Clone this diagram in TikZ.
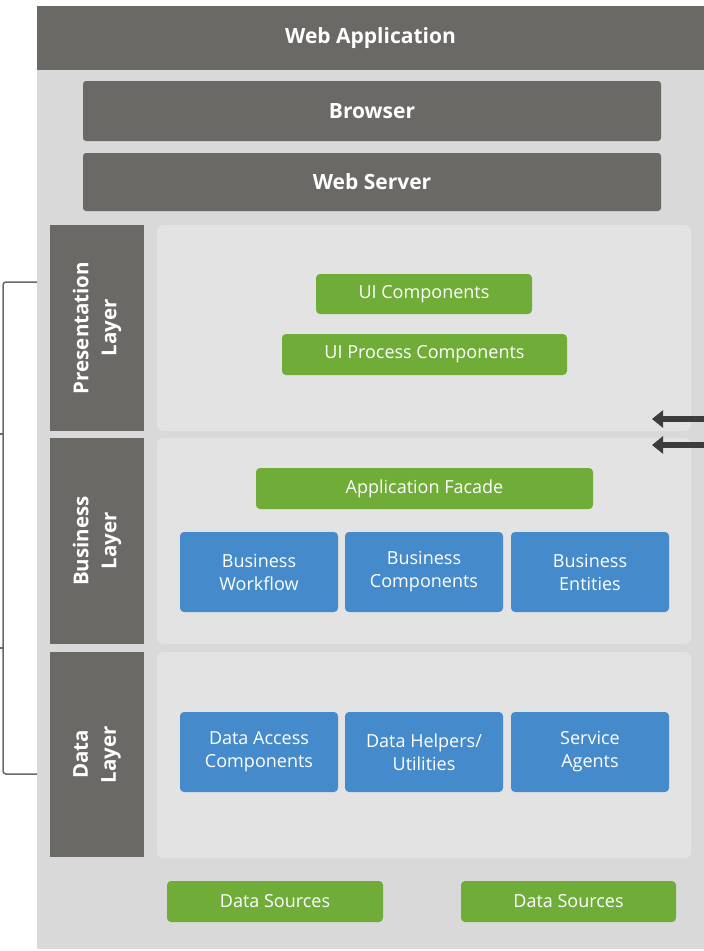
\documentclass[tikz,border=0pt]{standalone}
\usepackage{fontspec}
\setmainfont{Open Sans}
\usetikzlibrary{arrows.meta}
\definecolor{dgray}{HTML}{6B6966}
\definecolor{outer}{HTML}{D9D9D9}
\definecolor{panel}{HTML}{E3E3E3}
\definecolor{cgreen}{HTML}{70AD38}
\definecolor{cblue}{HTML}{458BCC}
\definecolor{arr}{HTML}{3C3C3C}
\begin{document}
\begin{tikzpicture}[x=1pt,y=-1pt,
  box/.style={inner sep=0pt, text=white, align=center},
  headbox/.style={box, fill=dgray, font=\bfseries\fontsize{21}{24}\selectfont},
  darkbox/.style={headbox, rounded corners=3pt},
  layerbox/.style={box, fill=dgray, font=\bfseries\fontsize{20.5}{28}\selectfont},
  panelbox/.style={inner sep=0pt, fill=panel, rounded corners=6pt},
  greenbox/.style={box, fill=cgreen, rounded corners=4pt, font=\fontsize{18}{20}\selectfont},
  bluebox/.style={box, fill=cblue, rounded corners=4pt, font=\fontsize{18}{23}\selectfont},
  bracket/.style={draw=dgray, line width=1.5pt, rounded corners=3pt},
  flow/.style={draw=arr, line width=6pt, -{Triangle[width=17pt,length=11pt]}}
]
\useasboundingbox (0,0) rectangle (704,951);
\fill[outer] (37,6) rectangle (704,949);
\node[headbox, minimum width=667pt, minimum height=64pt] (app) at (370.5,38) {Web Application};
\node[darkbox, minimum width=578pt, minimum height=60pt] (browser) at (372,111) {Browser};
\node[darkbox, minimum width=578pt, minimum height=58pt] (server) at (372,182) {Web Server};

\node[layerbox, minimum width=206pt, minimum height=94pt, rotate=90] (pl) at (97,328) {Presentation\\Layer};
\node[layerbox, minimum width=206pt, minimum height=94pt, rotate=90] (bl) at (97,541) {Business\\Layer};
\node[layerbox, minimum width=205pt, minimum height=94pt, rotate=90] (dl) at (97,754.5) {Data\\Layer};

\node[panelbox, minimum width=534pt, minimum height=206pt] (pp) at (424,328) {};
\node[panelbox, minimum width=534pt, minimum height=206pt] (bp) at (424,541) {};
\node[panelbox, minimum width=534pt, minimum height=206pt] (dp) at (424,755) {};

\node[greenbox, minimum width=216pt, minimum height=40pt] (uic) at (424,294) {UI Components};
\node[greenbox, minimum width=285pt, minimum height=41pt] (uip) at (424.5,354.5) {UI Process Components};
\node[greenbox, minimum width=337pt, minimum height=41pt] (af) at (424.5,488.5) {Application Facade};

\node[bluebox, minimum width=158pt, minimum height=80pt] (bw) at (259,572) {Business\\Workflow};
\node[bluebox, minimum width=158pt, minimum height=80pt] (bc) at (424,572) {Business\\Components};
\node[bluebox, minimum width=158pt, minimum height=80pt] (be) at (590,572) {Business\\Entities};

\node[bluebox, minimum width=158pt, minimum height=80pt] (dac) at (259,752) {Data Access\\Components};
\node[bluebox, minimum width=158pt, minimum height=80pt] (dhu) at (424,752) {Data Helpers/\\Utilities};
\node[bluebox, minimum width=158pt, minimum height=80pt] (sa) at (590,752) {Service\\Agents};

\node[greenbox, minimum width=216pt, minimum height=41pt] (ds1) at (275,901.5) {Data Sources};
\node[greenbox, minimum width=215pt, minimum height=41pt] (ds2) at (568.5,901.5) {Data Sources};

\coordinate (btop) at (37,282);
\coordinate (bbot) at (37,774);
\draw[bracket] (btop) -- (3,282) -- (3,774) -- (bbot);
\coordinate (t1a) at (3,434); \coordinate (t1b) at (0,434);
\coordinate (t2a) at (3,648); \coordinate (t2b) at (0,648);
\draw[bracket] (t1a) -- (t1b);
\draw[bracket] (t2a) -- (t2b);

\coordinate (a1s) at (704,419); \coordinate (a1e) at (652,419);
\coordinate (a2s) at (704,445); \coordinate (a2e) at (652,445);
\draw[flow] (a1s) -- (a1e);
\draw[flow] (a2s) -- (a2e);
\end{tikzpicture}
\end{document}
